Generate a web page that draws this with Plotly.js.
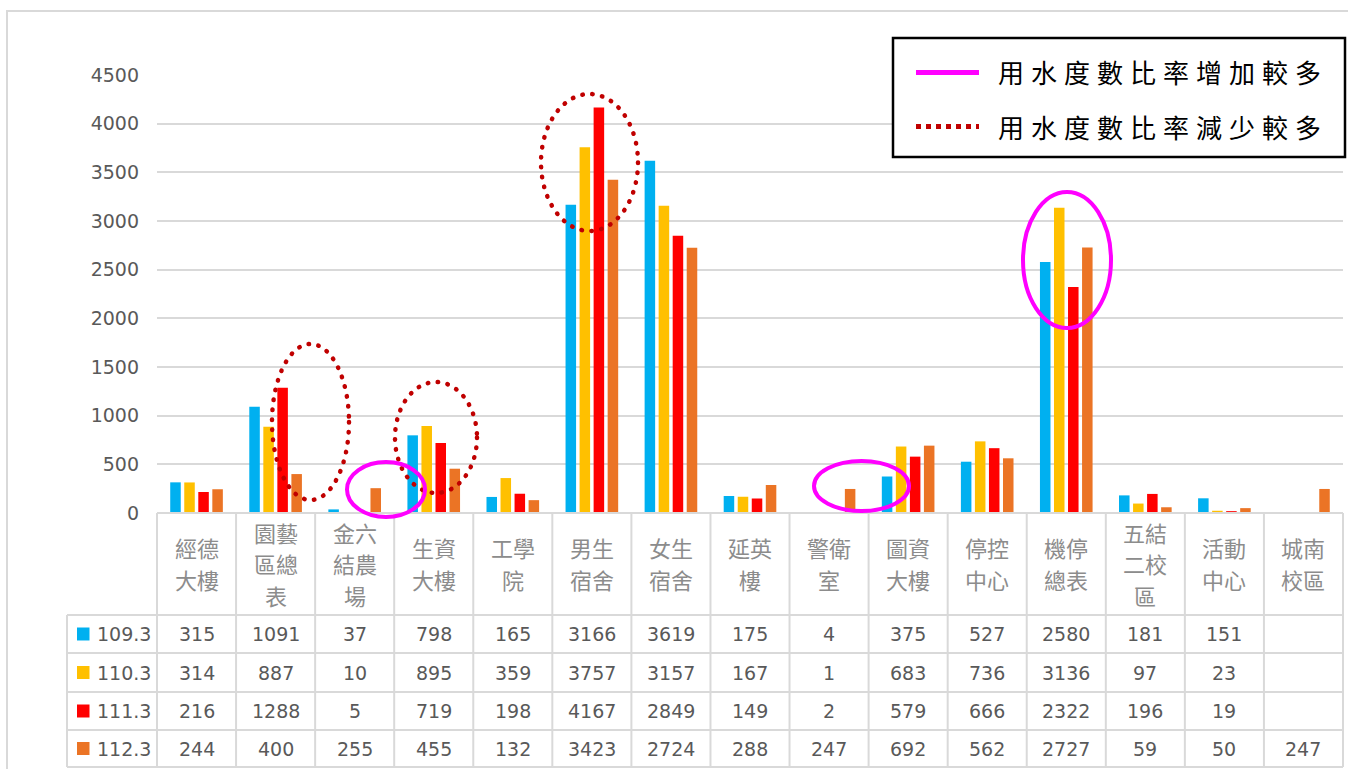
<!DOCTYPE html>
<html><head><meta charset="utf-8">
<script src="https://cdn.plot.ly/plotly-3.0.1.min.js"></script>
<style>
html,body{margin:0;padding:0;background:#fff;}
#chart{width:1348px;height:769px;}
</style></head><body><div id="chart"></div>
<script>
// ---- data ----
const categories = ['經德大樓','園藝區總表','金六結農場','生資大樓','工學院','男生宿舍','女生宿舍','延英樓','警衛室','圖資大樓','停控中心','機停總表','五結二校區','活動中心','城南校區'];
const tickLabels = ['經德<br>大樓','園藝<br>區總<br>表','金六<br>結農<br>場','生資<br>大樓','工學<br>院','男生<br>宿舍','女生<br>宿舍','延英<br>樓','警衛<br>室','圖資<br>大樓','停控<br>中心','機停<br>總表','五結<br>二校<br>區','活動<br>中心','城南<br>校區'];
const seriesNames = ['109.3','110.3','111.3','112.3'];
const s109 = [315,1091,37,798,165,3166,3619,175,4,375,527,2580,181,151,null];
const s110 = [314,887,10,895,359,3757,3157,167,1,683,736,3136,97,23,null];
const s111 = [216,1288,5,719,198,4167,2849,149,2,579,666,2322,196,19,null];
const s112 = [244,400,255,455,132,3423,2724,288,247,692,562,2727,59,50,247];
const seriesValues = [s109,s110,s111,s112];
const legendTexts = ['用水度數比率增加較多','用水度數比率減少較多'];

// ---- style ----
const colors = ['#00B0F0','#FFC000','#FF0000','#EB7425'];
const W = 1348, H = 769;
const PL = 157, PR = 1343, PT = 75, PB = 513;
const px = p => (p - PL) / (PR - PL);
const py = p => (PB - p) / (PB - PT);
const lineCol = '#D9D9D9';
const numFont = {family:'DejaVu Sans', size:19, color:'#595959'};
const cjkFont = 'Noto Sans CJK TC';

const traces = seriesValues.map((v,i)=>({
  type:'bar', x:categories, y:v, name:seriesNames[i],
  marker:{color:colors[i], line:{width:0}}, hoverinfo:'skip'
}));

const shapes = [];
const annotations = [];
// outer frame
shapes.push({type:'rect', xref:'paper', yref:'paper', x0:px(7), x1:px(1362), y0:py(11), y1:py(785), line:{color:lineCol, width:2}, layer:'below'});

// table lines
const rowLines = [615,653,692,730,767];
shapes.push({type:'line', xref:'paper', yref:'paper', x0:px(PL), x1:px(PR), y0:py(PB), y1:py(PB), line:{color:lineCol,width:2}});
rowLines.forEach(r=>shapes.push({type:'line', xref:'paper', yref:'paper', x0:px(67), x1:px(PR), y0:py(r), y1:py(r), line:{color:lineCol,width:2}}));
shapes.push({type:'line', xref:'paper', yref:'paper', x0:px(67), x1:px(67), y0:py(615), y1:py(767), line:{color:lineCol,width:2}});
for(let i=0;i<=categories.length;i++){
  const xx = PL + i*(PR-PL)/categories.length;
  shapes.push({type:'line', xref:'paper', yref:'paper', x0:px(xx), x1:px(xx), y0:py(PB), y1:py(767), line:{color:lineCol,width:2}});
}
// header labels
tickLabels.forEach((lab,i)=>{
  const lines = lab.split('<br>');
  const n = lines.length;
  lines.forEach((t,j)=>{
    annotations.push({xref:'x', yref:'paper', x:categories[i], y:py(563 + (j-(n-1)/2)*31.5), text:t, showarrow:false,
      xanchor:'center', yanchor:'middle', font:{family:cjkFont, size:22, color:'#8C8C8C'}});
  });
});
// rows
const rowCenters = [634,672.5,711,748.5];
seriesValues.forEach((vals,r)=>{
  shapes.push({type:'rect', xref:'paper', yref:'paper', x0:px(77), x1:px(89.5), y0:py(rowCenters[r]-6.5), y1:py(rowCenters[r]+6.5), fillcolor:colors[r], line:{width:0}});
  annotations.push({xref:'paper', yref:'paper', x:px(95), y:py(rowCenters[r]), text:seriesNames[r], showarrow:false, xanchor:'left', yanchor:'middle', font:numFont});
  vals.forEach((v,i)=>{
    if(v===null) return;
    annotations.push({xref:'x', yref:'paper', x:categories[i], y:py(rowCenters[r]), text:String(v), showarrow:false, xanchor:'center', yanchor:'middle', font:numFont});
  });
});

// ellipses
const magenta = '#FF00FF', darkRed = '#C00000';
const ell = (x0,x1,y0,y1,col,dotted)=>shapes.push({type:'circle', xref:'paper', yref:'paper', x0:px(x0), x1:px(x1), y0:py(y1), y1:py(y0),
  line:{color:col, width: dotted?4.5:4, dash: dotted?'0.5px,9.5px':'solid'}, fillcolor:'rgba(0,0,0,0)', layer:'above'});
ell(272,349,344,500,darkRed,true);
ell(395,477,382,493,darkRed,true);
ell(541,638,94,231,darkRed,true);
ell(347,425,462,517,magenta,false);
ell(814,909,461,511,magenta,false);
ell(1023,1111,192,328,magenta,false);

// legend box
shapes.push({type:'rect', xref:'paper', yref:'paper', x0:px(893), x1:px(1345), y0:py(157), y1:py(38), line:{color:'#000', width:2.5}, fillcolor:'#FFFFFF', layer:'above'});
shapes.push({type:'line', xref:'paper', yref:'paper', x0:px(916), x1:px(979), y0:py(72.5), y1:py(72.5), line:{color:magenta, width:5}, layer:'above'});
shapes.push({type:'line', xref:'paper', yref:'paper', x0:px(916), x1:px(979), y0:py(126.5), y1:py(126.5), line:{color:darkRed, width:5, dash:'5px,5px'}, layer:'above'});
const legStart = annotations.length;
legendTexts.forEach((t,k)=>annotations.push({xref:'paper', yref:'paper', x:px(996), y:py(k===0?72:126), text:t, showarrow:false, xanchor:'left', yanchor:'middle', align:'left', font:{family:cjkFont, size:26, color:'#000'}}));

const layout = {
  width:W, height:H, margin:{l:PL, r:W-PR, t:PT, b:H-PB}, paper_bgcolor:'#fff', plot_bgcolor:'#fff',
  showlegend:false, barmode:'group', bargap:0.29, bargroupgap:0.25,
  xaxis:{type:'category', range:[-0.5,categories.length-0.5], showticklabels:false, showgrid:false, zeroline:false, showline:false, fixedrange:true},
  yaxis:{range:[0,4500], dtick:500, showgrid:true, gridcolor:lineCol, gridwidth:2, zeroline:false, showline:false,
    tickfont:{family:'DejaVu Sans', size:19, color:'#595959'}, ticklabelstandoff:17, fixedrange:true},
  shapes, annotations, font:{family:'DejaVu Sans'}
};
Plotly.newPlot('chart', traces, layout, {staticPlot:true, displayModeBar:false}).then(()=>{
  document.querySelectorAll('.shapelayer path').forEach(p=>{
    const d = p.style.strokeDasharray || '';
    if(d.indexOf('0.5px')===0) p.style.strokeLinecap='round';
  });
  document.querySelectorAll('g.annotation').forEach(g=>{
    const idx = +g.getAttribute('data-index');
    if(idx>=legStart){ const t=g.querySelector('text'); if(t) t.style.letterSpacing='7px'; }
  });
});
</script></body></html>
